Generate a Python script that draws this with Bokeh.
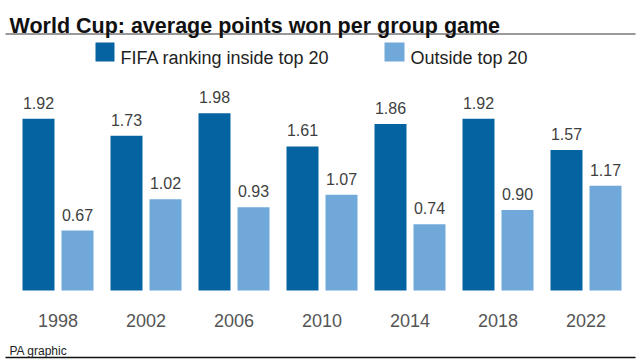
from bokeh.plotting import figure
from bokeh.models import Range1d, ColumnDataSource, LabelSet, Label
from bokeh.transform import dodge
from bokeh.core.properties import value
from bokeh.embed import file_html
from bokeh.resources import INLINE

# ---- data ----
years = ["1998", "2002", "2006", "2010", "2014", "2018", "2022"]
inside_top20 = [1.92, 1.73, 1.98, 1.61, 1.86, 1.92, 1.57]
outside_top20 = [0.67, 1.02, 0.93, 1.07, 0.74, 0.90, 1.17]
series_names = ["FIFA ranking inside top 20", "Outside top 20"]

DARK = "#0563a1"
LIGHT = "#70a9d9"
FONT = "Liberation Sans"

# ---- layout geometry (pixels) ----
W, H = 640, 360
ORG = 0              # page offset of the canvas
PX_PER_X = 88.0      # px between group centres
PX_PER_Y = 89.5      # px per point
X0 = 57.5            # page px of first group centre
BASE = 290           # page px (from top) of the bar baseline

x_start = -(X0 - ORG) / PX_PER_X
x_end = x_start + W / PX_PER_X
y_top = (BASE - ORG) / PX_PER_Y
y_bottom = -(H - (BASE - ORG)) / PX_PER_Y


def dx(page_x):
    return x_start + (page_x - ORG) / PX_PER_X


def dy(page_y):
    return y_top - (page_y - ORG) / PX_PER_Y


def sy(page_y):  # screen y (from bottom) for Label
    return H - (page_y - ORG)


OFF = 19.5 / PX_PER_X
BW = 32 / PX_PER_X

src = ColumnDataSource(dict(
    idx=list(range(len(years))),
    year=years,
    inside=inside_top20,
    outside=outside_top20,
    inside_lbl=["%.2f" % v for v in inside_top20],
    outside_lbl=["%.2f" % v for v in outside_top20],
    zero=[0] * len(years),
))

p = figure(width=W, height=H, output_backend="svg", toolbar_location=None,
           x_range=Range1d(x_start, x_end), y_range=Range1d(y_bottom, y_top),
           min_border=0, outline_line_color=None, background_fill_color="white",
           border_fill_color="white")
p.xaxis.visible = False
p.yaxis.visible = False
p.grid.visible = False

p.vbar(x=dodge("idx", -OFF, range=p.x_range), top="inside", width=BW, bottom=0,
       source=src, fill_color=DARK, line_color=None)
p.vbar(x=dodge("idx", OFF, range=p.x_range), top="outside", width=BW, bottom=0,
       source=src, fill_color=LIGHT, line_color=None)

for col, lbl, off in (("inside", "inside_lbl", -OFF), ("outside", "outside_lbl", OFF)):
    p.add_layout(LabelSet(x=dodge("idx", off, range=p.x_range), y=col, text=lbl,
                          source=src, y_offset=10, text_align="center",
                          text_baseline="alphabetic", text_font=value(FONT),
                          text_font_size="16px", text_color="#3f3f3f"))

p.add_layout(LabelSet(x="idx", y="zero", text="year", source=src, y_offset=-36,
                      text_align="center", text_baseline="alphabetic",
                      text_font=value(FONT), text_font_size="18px",
                      text_color="#555555"))

# title
p.add_layout(Label(x=9, y=sy(25), x_units="screen", y_units="screen",
                   text="World Cup: average points won per group game",
                   text_font=FONT, text_font_size="21.5px", text_font_style="bold",
                   text_color="#111111", text_baseline="alphabetic"))
p.segment(x0=[dx(5)], x1=[dx(635)], y0=[dy(33.5)], y1=[dy(33.5)],
          line_color="#777777", line_width=1.5)

# legend
p.quad(left=[dx(95), dx(384)], right=[dx(114), dx(404)],
       top=[dy(42), dy(42)], bottom=[dy(61), dy(61)],
       fill_color=[DARK, LIGHT], line_color=None)
for px_, name in zip((120, 410), series_names):
    p.add_layout(Label(x=px_ - ORG, y=sy(57), x_units="screen", y_units="screen",
                       text=name, text_font=FONT, text_font_size="18px",
                       text_color="#222222", text_baseline="alphabetic"))

# footer
p.add_layout(Label(x=9, y=sy(350), x_units="screen", y_units="screen",
                   text="PA graphic", text_font=FONT, text_font_size="12px",
                   text_color="#222222", text_baseline="alphabetic"))
p.segment(x0=[dx(5)], x1=[dx(635)], y0=[dy(357)], y1=[dy(357)],
          line_color="#111111", line_width=1.5)

open("out.html", "w").write(file_html(p, INLINE))
